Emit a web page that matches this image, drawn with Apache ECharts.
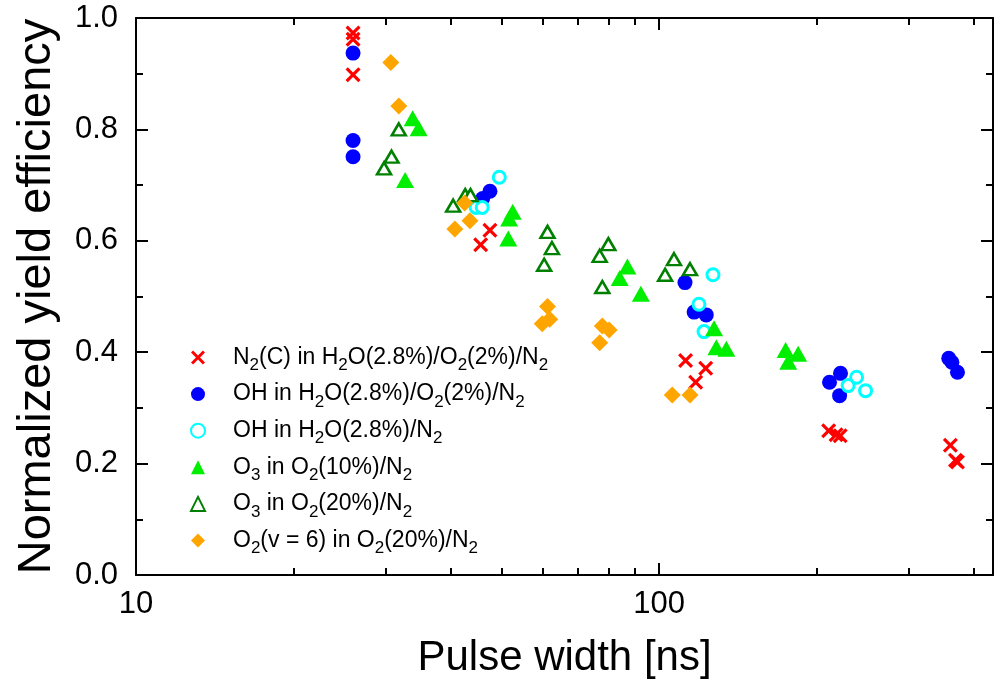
<!DOCTYPE html>
<html>
<head>
<meta charset="utf-8">
<script src="https://cdn.jsdelivr.net/npm/echarts@6/dist/echarts.min.js"></script>
<style>html,body{margin:0;padding:0;background:#fff}#c{width:1000px;height:685px}</style>
</head>
<body>
<div id="c"></div>
<script>
// Data (x: pulse width [ns], y: normalized yield efficiency)
var seriesNames = [
  'N{sub|2}(C) in H{sub|2}O(2.8%)/O{sub|2}(2%)/N{sub|2}',
  'OH in H{sub|2}O(2.8%)/O{sub|2}(2%)/N{sub|2}',
  'OH in H{sub|2}O(2.8%)/N{sub|2}',
  'O{sub|3} in O{sub|2}(10%)/N{sub|2}',
  'O{sub|3} in O{sub|2}(20%)/N{sub|2}',
  'O{sub|2}(v = 6) in O{sub|2}(20%)/N{sub|2}'
];
var n2c = [[26,0.973],[26,0.962],[26,0.898],[47.5,0.619],[45.6,0.593],[112.4,0.385],[122.8,0.371],[117.5,0.346],[211,0.259],[218,0.252],[222,0.250],[360.6,0.233],[368.8,0.206],[372,0.203]];
var ohO2 = [[26,0.937],[26,0.78],[26,0.751],[46,0.676],[47.5,0.689],[112.1,0.525],[116.7,0.472],[123.1,0.467],[211.8,0.346],[222.3,0.362],[221.4,0.322],[358,0.389],[363,0.382],[372,0.364]];
var ohN2 = [[49.5,0.714],[44.7,0.660],[45.9,0.660],[126.8,0.539],[119.2,0.486],[121.9,0.437],[238.6,0.355],[229.9,0.340],[248.2,0.331]];
var o3_10 = [[33.8,0.82],[34.7,0.802],[32.7,0.709],[52.5,0.652],[51.7,0.640],[51.5,0.604],[87.0,0.554],[84.1,0.533],[92.3,0.505],[127.4,0.443],[128.7,0.409],[134.5,0.406],[174.6,0.404],[184.5,0.397],[176.6,0.383]];
var o3_20 = [[31.8,0.80],[30.8,0.751],[29.8,0.730],[40.4,0.663],[42.6,0.682],[43.6,0.682],[61.2,0.616],[62.4,0.587],[60.3,0.557],[80.0,0.594],[77.0,0.573],[77.9,0.517],[106.8,0.567],[102.7,0.539],[114.6,0.549]];
var o2v6 = [[30.7,0.92],[31.8,0.842],[42.5,0.668],[43.5,0.636],[40.7,0.621],[61.2,0.482],[61.8,0.459],[59.8,0.451],[77.9,0.447],[80.3,0.44],[77.0,0.417],[106.0,0.323],[114.6,0.323]];
var xMajorTicks = [10, 100];
var xMinorTicks = [20,30,40,50,60,70,80,90,200,300,400];
var xRange = [10, 435];
var yRange = [0, 1];

var FONT = '"Liberation Sans", Arial, Helvetica, sans-serif';
var crossPath = 'path://M3,0 L10,7 L17,0 L20,3 L13,10 L20,17 L17,20 L10,13 L3,20 L0,17 L7,10 L0,3 Z';

function xAxisDef(pos, major, showLabel, showLine) {
  return {
    type: 'log', logBase: 10, min: xRange[0], max: xRange[1], position: pos,
    axisLine: {show: showLine, lineStyle: {color: '#000', width: 2}},
    axisTick: {show: true, inside: true, length: major ? 12 : 7, lineStyle: {color: '#000', width: 2},
      customValues: major ? xMajorTicks : xMinorTicks},
    axisLabel: {show: showLabel, customValues: xMajorTicks, color: '#000', fontFamily: FONT, fontSize: 31, margin: 14},
    splitLine: {show: false}, minorTick: {show: false}
  };
}
var xAxes = [
  xAxisDef('bottom', true, true, true),
  xAxisDef('bottom', false, false, false),
  xAxisDef('top', true, false, true),
  xAxisDef('top', false, false, false)
];
xAxes[0].name = 'Pulse width [ns]';
xAxes[0].nameLocation = 'middle';
xAxes[0].nameGap = 62;
xAxes[0].nameTextStyle = {color: '#000', fontFamily: FONT, fontSize: 42};

function yAxisDef(pos, showLabel) {
  return {
    type: 'value', min: yRange[0], max: yRange[1], interval: 0.2, position: pos,
    axisLine: {show: true, lineStyle: {color: '#000', width: 2}},
    axisTick: {show: true, inside: true, length: 12, lineStyle: {color: '#000', width: 2}},
    minorTick: {show: true, splitNumber: 2, length: 7, lineStyle: {color: '#000', width: 2}},
    axisLabel: {show: showLabel, color: '#000', fontFamily: FONT, fontSize: 31, margin: 18,
      formatter: function (v) { return v.toFixed(1); }},
    splitLine: {show: false}
  };
}
var yAxes = [yAxisDef('left', true), yAxisDef('right', false)];
yAxes[0].name = 'Normalized yield efficiency';
yAxes[0].nameLocation = 'middle';
yAxes[0].nameGap = 75;
yAxes[0].nameTextStyle = {color: '#000', fontFamily: FONT, fontSize: 47};

function sc(name, data, symbol, size, itemStyle) {
  itemStyle.opacity = 1;
  return {name: name, type: 'scatter', data: data, symbol: symbol, symbolSize: size,
    xAxisIndex: 0, yAxisIndex: 0, itemStyle: itemStyle, emphasis: {disabled: true}};
}

var option = {
  animation: false,
  backgroundColor: '#fff',
  grid: {left: 136, right: 7, top: 18, bottom: 110, containLabel: false},
  xAxis: xAxes,
  yAxis: yAxes,
  legend: {
    orient: 'vertical', left: 185, top: 336, itemWidth: 14, itemHeight: 14, itemGap: 3.6,
    selectedMode: false,
    data: seriesNames,
    formatter: function (n) { return n; },
    textStyle: {color: '#000', fontFamily: FONT, fontSize: 23, lineHeight: 26, padding: [0,0,0,23],
      rich: {sub: {fontSize: 17, lineHeight: 17, padding: [16,0,0,0], color: '#000', fontFamily: FONT}}}
  },
  series: [
    sc(seriesNames[0], n2c, crossPath, 15, {color: '#ff0000'}),
    sc(seriesNames[1], ohO2, 'circle', 15, {color: '#0000ff'}),
    sc(seriesNames[2], ohN2, 'circle', 12, {color: '#ffffff', borderColor: '#00ffff', borderWidth: 3}),
    sc(seriesNames[3], o3_10, 'triangle', [18,16], {color: '#00ee00'}),
    sc(seriesNames[4], o3_20, 'triangle', [14,12], {color: '#ffffff', borderColor: '#008000', borderWidth: 2.5}),
    sc(seriesNames[5], o2v6, 'diamond', 17, {color: '#ffa500'})
  ]
};
var chart = echarts.init(document.getElementById('c'), null, {renderer: 'canvas'});
chart.setOption(option);
</script>
</body>
</html>
